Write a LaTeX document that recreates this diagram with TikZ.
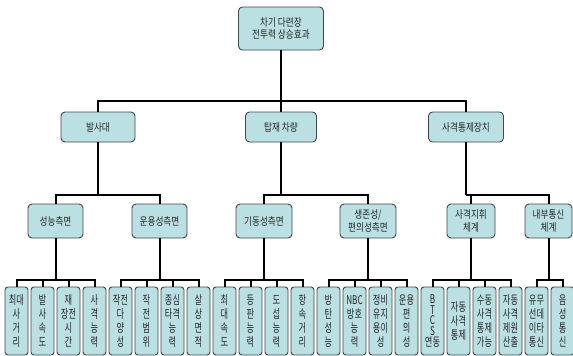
\documentclass[tikz,border=0pt]{standalone}
\usepackage{fontspec}
\newfontfamily\kr[FakeStretch=0.8]{Noto Sans CJK KR}
\newfontfamily\krleaf[FakeStretch=0.68]{Noto Sans CJK KR}
\definecolor{boxfill}{RGB}{187,224,227}
\definecolor{boxline}{RGB}{70,70,70}
\definecolor{txt}{RGB}{40,40,40}
\begin{document}
\begin{tikzpicture}[x=1pt,y=-1pt,
 box/.style={draw=boxline, fill=boxfill, line width=0.9pt, rounded corners=4pt, text=txt, align=center, inner sep=0pt, font=\kr\fontsize{10.8}{12.5}\selectfont},
 topbox/.style={box, minimum width=85pt, minimum height=43pt},
 lone/.style={box, minimum height=30pt},
 ltwo/.style={box, minimum height=34pt},
 leaf/.style={box, minimum width=23pt, minimum height=68pt, rounded corners=3pt, font=\krleaf\fontsize{12}{14}\selectfont},
 conn/.style={line width=2pt, black}]
\useasboundingbox (0,0) rectangle (573,356);
% root
\node[topbox] (root) at (281,28.5) {차기 다련장\\전투력 상승효과};
% level 1
\node[lone, minimum width=74pt] (l1a) at (98,127) {발사대};
\node[lone, minimum width=71pt] (l1b) at (281,127) {탑재 차량};
\node[lone, minimum width=75pt] (l1c) at (466,127) {사격통제장치};
% level 2
\node[ltwo, minimum width=55pt] (l2a) at (55.5,221) {성능측면};
\node[ltwo, minimum width=55pt] (l2b) at (159.5,221) {운용성측면};
\node[ltwo, minimum width=56pt] (l2c) at (264,221) {기동성측면};
\node[ltwo, minimum width=56pt] (l2d) at (368,221) {생존성/\\편의성측면};
\node[ltwo, minimum width=48pt] (l2e) at (471,221) {사격지휘\\체계};
\node[ltwo, minimum width=47pt] (l2f) at (548.5,221) {내부통신\\체계};
% leaves
\node[leaf] (f0) at (16.5,321) {최대\\사\\거\\리};
\node[leaf] (f1) at (42.5,321) {발\\사\\속\\도};
\node[leaf] (f2) at (68.5,321) {재\\장전\\시\\간};
\node[leaf] (f3) at (94.5,321) {사\\격\\능\\력};
\node[leaf] (f4) at (120.5,321) {작전\\다\\양\\성};
\node[leaf] (f5) at (146.5,321) {작\\전\\범\\위};
\node[leaf] (f6) at (172.5,321) {종심\\타격\\능\\력};
\node[leaf] (f7) at (198.5,321) {살\\상\\면\\적};
\node[leaf] (f8) at (224.5,321) {최\\대\\속\\도};
\node[leaf] (f9) at (250.5,321) {등\\판\\능\\력};
\node[leaf] (f10) at (276.5,321) {도\\섭\\능\\력};
\node[leaf] (f11) at (302.5,321) {항\\속\\거\\리};
\node[leaf] (f12) at (328.5,321) {방\\탄\\성\\능};
\node[leaf] (f13) at (354.5,321) {NBC\\방호\\능\\력};
\node[leaf] (f14) at (380.5,321) {정비\\유지\\용이\\성};
\node[leaf] (f15) at (406.5,321) {운용\\편\\의\\성};
\node[leaf, font=\krleaf\fontsize{12}{10.8}\selectfont] (f16) at (432.5,321) {B\\T\\C\\S\\연동};
\node[leaf] (f17) at (458.5,321) {자동\\사격\\통제};
\node[leaf] (f18) at (484.5,321) {수동\\사격\\통제\\가능};
\node[leaf] (f19) at (510.5,321) {자동\\사격\\제원\\산출};
\node[leaf] (f20) at (536.5,321) {유무\\선데\\이타\\통신};
\node[leaf] (f21) at (562.5,321) {음\\성\\통\\신};
% bars
\coordinate (bar0) at (0,101);
\coordinate (bar1) at (0,195);
\coordinate (bar2) at (0,280);
% root -> level 1
\draw[conn] (root.south) -- (l1b.north);
\draw[conn] (l1a.north) |- (root.south |- bar0) -| (l1c.north);
% level 1 -> level 2
\draw[conn] (l1a.south) -- (l1a.south |- bar1);
\draw[conn] (l2a.north) |- (l1a.south |- bar1) -| (l2b.north);
\draw[conn] (l1b.south) -- (l1b.south |- bar1);
\draw[conn] (l2c.north) |- (l1b.south |- bar1) -| (l2d.north);
\draw[conn] (l1c.south) -- (l1c.south |- bar1);
\draw[conn] (l2e.north) |- (l1c.south |- bar1) -| (l2f.north);
% level 2 -> leaves
\draw[conn] (l2a.south) -- (l2a.south |- bar2);
\draw[conn] (f0.north) |- (f3.north |- bar2) -- (f3.north);
\draw[conn] (f1.north) -- (f1.north |- bar2);
\draw[conn] (f2.north) -- (f2.north |- bar2);
\draw[conn] (l2b.south) -- (l2b.south |- bar2);
\draw[conn] (f4.north) |- (f7.north |- bar2) -- (f7.north);
\draw[conn] (f5.north) -- (f5.north |- bar2);
\draw[conn] (f6.north) -- (f6.north |- bar2);
\draw[conn] (l2c.south) -- (l2c.south |- bar2);
\draw[conn] (f8.north) |- (f11.north |- bar2) -- (f11.north);
\draw[conn] (f9.north) -- (f9.north |- bar2);
\draw[conn] (f10.north) -- (f10.north |- bar2);
\draw[conn] (l2d.south) -- (l2d.south |- bar2);
\draw[conn] (f12.north) |- (f15.north |- bar2) -- (f15.north);
\draw[conn] (f13.north) -- (f13.north |- bar2);
\draw[conn] (f14.north) -- (f14.north |- bar2);
\draw[conn] (l2e.south) -- (l2e.south |- bar2);
\draw[conn] (f16.north) |- (f19.north |- bar2) -- (f19.north);
\draw[conn] (f17.north) -- (f17.north |- bar2);
\draw[conn] (f18.north) -- (f18.north |- bar2);
\draw[conn] (l2f.south) -- (l2f.south |- bar2);
\draw[conn] (f20.north) |- (f21.north |- bar2) -- (f21.north);
\end{tikzpicture}
\end{document}
